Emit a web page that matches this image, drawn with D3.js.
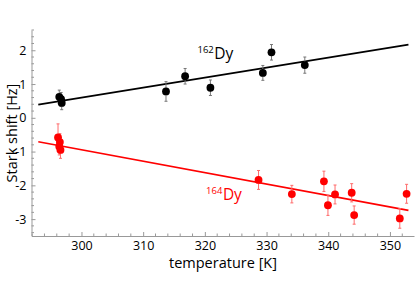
<!DOCTYPE html>
<html>
<head>
<meta charset="utf-8">
<script src="https://cdn.jsdelivr.net/npm/d3@7"></script>
<style>
    body { margin: 0; background: #fff; }
    text { font-family: "Open Sans", "Noto Sans", sans-serif; }
</style>
</head>
<body>
<svg id="chart" width="416" height="304"></svg>
<script>
// 162Dy data: temperature [K], shift [Hz], error [Hz]
var t162 = [296.4, 296.7, 296.8, 313.7, 316.8, 320.9, 329.4, 330.8, 336.2];
var s162 = [0.62, 0.55, 0.44, 0.78, 1.23, 0.89, 1.33, 1.94, 1.56];
var e162 = [0.20, 0.20, 0.20, 0.29, 0.23, 0.23, 0.22, 0.23, 0.24];

// 164Dy data
var t164 = [296.2, 296.5, 296.4, 296.6, 328.7, 334.1, 339.3, 339.95, 341.1, 343.8, 344.2, 351.6, 352.7];
var s164 = [-0.58, -0.72, -0.85, -0.95, -1.84, -2.26, -1.88, -2.59, -2.27, -2.22, -2.88, -2.98, -2.25];
var e164 = [0.40, 0.25, 0.25, 0.25, 0.28, 0.26, 0.30, 0.30, 0.28, 0.27, 0.27, 0.29, 0.28];

// linear fits (end points)
var fitT = [293, 353];
var fit162 = [0.39, 2.165];
var fit164 = [-0.71, -2.74];

var xTicks = [300, 310, 320, 330, 340, 350];
var yTicks = [-3, -2, -1, 0, 1, 2];

var svg = d3.select("#chart");

var x = d3.scaleLinear().domain([291.9, 353.9]).range([31.5, 414]);
var y = d3.scaleLinear().domain([-3.5, 2.6]).range([236, 30]);

var axisColor = "#999";

// minor ticks
var xMinor = d3.range(292, 354, 2).filter(function (d) { return d % 10 !== 0; });
var yMinor = d3.range(-3.4, 2.61, 0.2).filter(function (d) { return Math.abs(d - Math.round(d)) > 0.01; });

var gx = svg.append("g")
    .attr("transform", "translate(0," + y.range()[0] + ")")
    .call(d3.axisBottom(x).tickValues(xTicks).tickSizeInner(-4).tickSizeOuter(0).tickPadding(5));
gx.append("g").selectAll("line").data(xMinor).enter()
    .append("line")
    .attr("x1", function (d) { return x(d); }).attr("x2", function (d) { return x(d); })
    .attr("y1", 0).attr("y2", -2.5)
    .attr("stroke", axisColor);

var gy = svg.append("g")
    .attr("transform", "translate(" + x.range()[0] + ",0)")
    .call(d3.axisLeft(y).tickValues(yTicks).tickSizeInner(-4).tickSizeOuter(0).tickPadding(5));
gy.append("g").selectAll("line").data(yMinor).enter()
    .append("line")
    .attr("y1", function (d) { return y(d); }).attr("y2", function (d) { return y(d); })
    .attr("x1", 0).attr("x2", 2.5)
    .attr("stroke", axisColor);

svg.selectAll(".domain, .tick line").attr("stroke", axisColor);
svg.selectAll(".tick text").attr("font-size", 12.5).attr("fill", "#000")
    .style("font-family", "'Open Sans', sans-serif");
// minus sign like the original
gy.selectAll(".tick text").text(function (d) { return d < 0 ? "-" + Math.abs(d) : d; });

// axis titles
svg.append("text")
    .attr("x", 223).attr("y", 268)
    .attr("text-anchor", "middle")
    .attr("font-size", 14.5)
    .text("temperature [K]");

svg.append("text")
    .attr("transform", "translate(17," + ((y.range()[0] + y.range()[1]) / 2) + ") rotate(-90)")
    .attr("text-anchor", "middle")
    .attr("font-size", 14.5)
    .text("Stark shift [Hz]");

var line = d3.line()
    .x(function (d) { return x(d[0]); })
    .y(function (d) { return y(d[1]); });

function drawSeries(ts, ss, es, fit, color, barColor) {
    var pts = ts.map(function (t, i) { return [t, ss[i], es[i]]; });
    var g = svg.append("g");

    // fit line
    g.append("path")
        .datum(fitT.map(function (t, i) { return [t, fit[i]]; }))
        .attr("d", line)
        .attr("fill", "none")
        .attr("stroke", color)
        .attr("stroke-width", 1.7);

    // error bars
    var eb = g.selectAll("g.err").data(pts).enter().append("g").attr("class", "err")
        .attr("stroke", barColor).attr("stroke-width", 1);
    eb.append("line")
        .attr("x1", function (d) { return x(d[0]); }).attr("x2", function (d) { return x(d[0]); })
        .attr("y1", function (d) { return y(d[1] - d[2]); })
        .attr("y2", function (d) { return y(d[1] + d[2]); });
    eb.append("line")
        .attr("x1", function (d) { return x(d[0]) - 1.5; }).attr("x2", function (d) { return x(d[0]) + 1.5; })
        .attr("y1", function (d) { return y(d[1] + d[2]); })
        .attr("y2", function (d) { return y(d[1] + d[2]); });
    eb.append("line")
        .attr("x1", function (d) { return x(d[0]) - 1.5; }).attr("x2", function (d) { return x(d[0]) + 1.5; })
        .attr("y1", function (d) { return y(d[1] - d[2]); })
        .attr("y2", function (d) { return y(d[1] - d[2]); });

    // points
    g.selectAll("circle").data(pts).enter().append("circle")
        .attr("cx", function (d) { return x(d[0]); })
        .attr("cy", function (d) { return y(d[1]); })
        .attr("r", 3.9)
        .attr("fill", color);
}

drawSeries(t162, s162, e162, fit162, "#000", "#777");
drawSeries(t164, s164, e164, fit164, "#ff0000", "#ff6a6a");

// isotope labels (start of the superscript)
function isoLabel(mass, t, s, color) {
    var txt = svg.append("text")
        .attr("x", x(t)).attr("y", y(s))
        .attr("fill", color)
        .attr("font-size", 15.5);
    txt.append("tspan").attr("font-size", 9.5).attr("dy", -6).text(mass);
    txt.append("tspan").attr("dy", 6).attr("dx", 0.5).text("Dy");
}
isoLabel("162", 318.8, 1.74, "#000");
isoLabel("164", 320.2, -2.42, "#ff0000");
</script>
</body>
</html>
